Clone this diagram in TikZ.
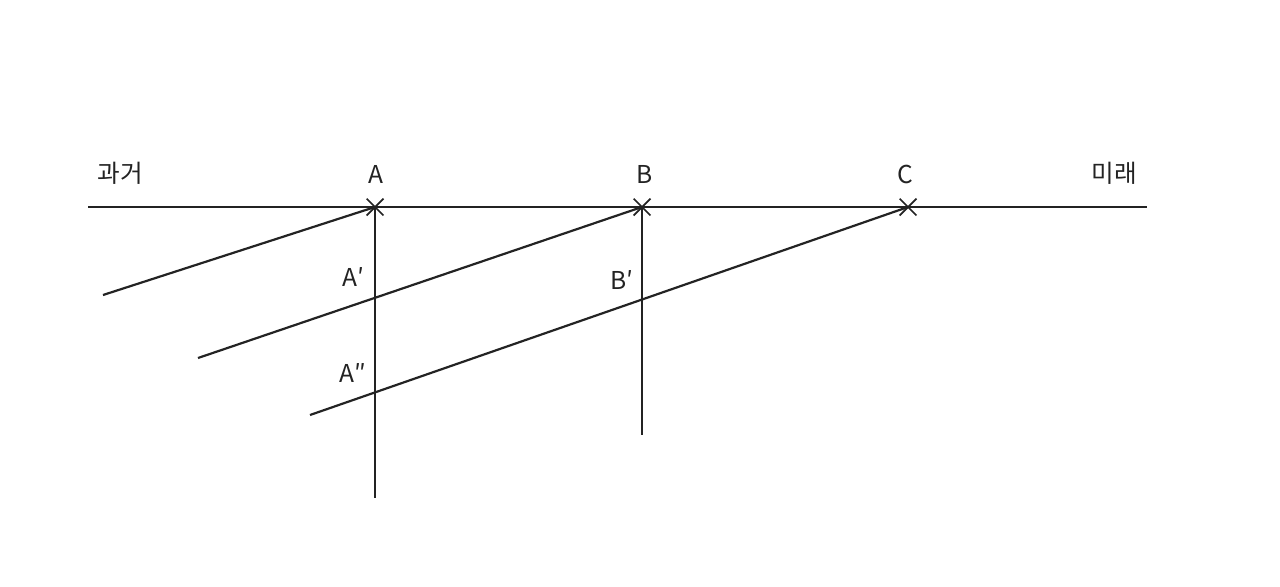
\documentclass[tikz,border=0pt]{standalone}
\usepackage{fontspec}
\setmainfont{Noto Sans CJK KR}
\usetikzlibrary{shapes.misc}
\definecolor{inkgray}{RGB}{35,35,35}

\begin{document}
\begin{tikzpicture}[
    x=0.02cm, y=-0.02cm,
    axis/.style={draw=inkgray, line width=1.25pt},
    xmark/.style={cross out, draw=inkgray, line width=1pt, minimum size=15*0.02cm, inner sep=0pt},
    lbl/.style={font=\fontsize{14}{16}\selectfont, text=inkgray}
]
\useasboundingbox (0,0) rectangle (1280,586);
% time line
\coordinate (past) at (88,207);
\coordinate (future) at (1147,207);
\node[xmark] (A) at (375,207) {};
\node[xmark] (B) at (642,207) {};
\node[xmark] (C) at (908,207) {};
\draw[axis] (past) -- (future);
% verticals and slanted lines
\coordinate (Aend) at (375,498);
\coordinate (Bend) at (642,435);
\coordinate (Atail) at (103,295);
\coordinate (Btail) at (198,358);
\coordinate (Ctail) at (310,415);
\draw[axis] (A.center) -- (Aend);
\draw[axis] (B.center) -- (Bend);
\draw[axis] (A.center) -- (Atail);
\draw[axis] (B.center) -- (Btail);
\draw[axis] (C.center) -- (Ctail);
% labels
\node[lbl] (pastlbl) at (120,173) {과거};
\node[lbl] (futurelbl) at (1114,173) {미래};
\node[lbl] (Albl) at (376,174) {A};
\node[lbl] (Blbl) at (645,174) {B};
\node[lbl] (Clbl) at (905,174) {C};
\node[lbl] (A1lbl) at (353,277) {A′};
\node[lbl] (A2lbl) at (353,373) {A″};
\node[lbl] (B1lbl) at (622,280) {B′};
\end{tikzpicture}
\end{document}
